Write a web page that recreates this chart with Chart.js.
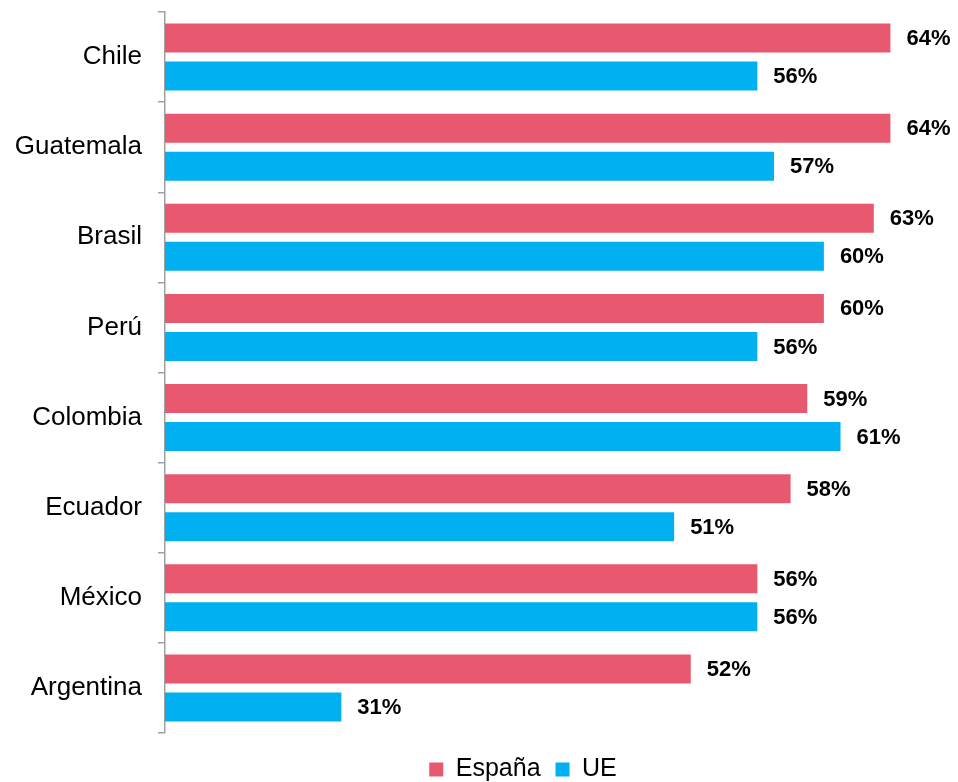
<!DOCTYPE html>
<html>
<head>
<meta charset="utf-8">
<script src="https://cdn.jsdelivr.net/npm/chart.js@4/dist/chart.umd.min.js"></script>
<style>
  html, body { margin: 0; padding: 0; background: #fff; }
  #wrap { width: 958px; height: 782px; }
</style>
</head>
<body>
<div id="wrap"><canvas id="chart"></canvas></div>
<script>
// Values
const countries = ['Chile', 'Guatemala', 'Brasil', 'Perú', 'Colombia', 'Ecuador', 'México', 'Argentina'];
const espana = [64, 64, 63, 60, 59, 58, 56, 52];
const ue = [56, 57, 60, 56, 61, 51, 56, 31];
const seriesNames = ['España', 'UE'];

const PINK = '#E8596F';
const BLUE = '#00B0F0';
const FONT = 'Arial, "Liberation Sans", sans-serif';

// Draw the percentage next to each bar end
const valueLabels = {
    id: 'valueLabels',
    afterDatasetsDraw(chart) {
        const ctx = chart.ctx;
        ctx.save();
        ctx.font = 'bold 22px ' + FONT;
        ctx.fillStyle = '#000';
        ctx.textAlign = 'left';
        ctx.textBaseline = 'middle';
        chart.data.datasets.forEach((ds, i) => {
            chart.getDatasetMeta(i).data.forEach((bar, j) => {
                ctx.fillText(ds.data[j] + '%', bar.x + 16, bar.y + 1);
            });
        });
        ctx.restore();
    }
};

// The legend in the reference sits right of the page centre and a bit lower
const legendShift = {
    id: 'legendShift',
    afterLayout(chart) {
        const lg = chart.legend;
        lg.left += 44;
        lg.right += 44;
        lg.top += 9;
        lg.bottom += 9;
    }
};

new Chart(document.getElementById('chart'), {
    type: 'bar',
    data: {
        labels: countries,
        datasets: [
            { label: seriesNames[0], data: espana, backgroundColor: PINK },
            { label: seriesNames[1], data: ue, backgroundColor: BLUE }
        ]
    },
    options: {
        indexAxis: 'y',
        responsive: true,
        maintainAspectRatio: false,
        animation: false,
        categoryPercentage: 0.844,
        barPercentage: 0.763,
        layout: {
            padding: { left: 6, right: 6, top: 12, bottom: -1 }
        },
        plugins: {
            legend: {
                position: 'bottom',
                labels: {
                    boxWidth: 14,
                    boxHeight: 14,
                    padding: 15,
                    color: '#000',
                    font: { family: FONT, size: 25 }
                }
            },
            tooltip: { enabled: false }
        },
        scales: {
            x: {
                display: false,
                min: 20.4,
                max: 67.7
            },
            y: {
                afterFit(scale) {
                    scale.width = 159;
                    scale.paddingTop = 0;
                    scale.paddingBottom = 0;
                },
                grid: {
                    offset: true,
                    drawOnChartArea: false,
                    tickLength: 7,
                    lineWidth: 1.5,
                    color: '#a0a0a0'
                },
                border: { color: '#a0a0a0', width: 1.5 },
                ticks: {
                    padding: 16,
                    color: '#000',
                    font: { family: FONT, size: 26 }
                }
            }
        }
    },
    plugins: [valueLabels, legendShift]
});
</script>
</body>
</html>
